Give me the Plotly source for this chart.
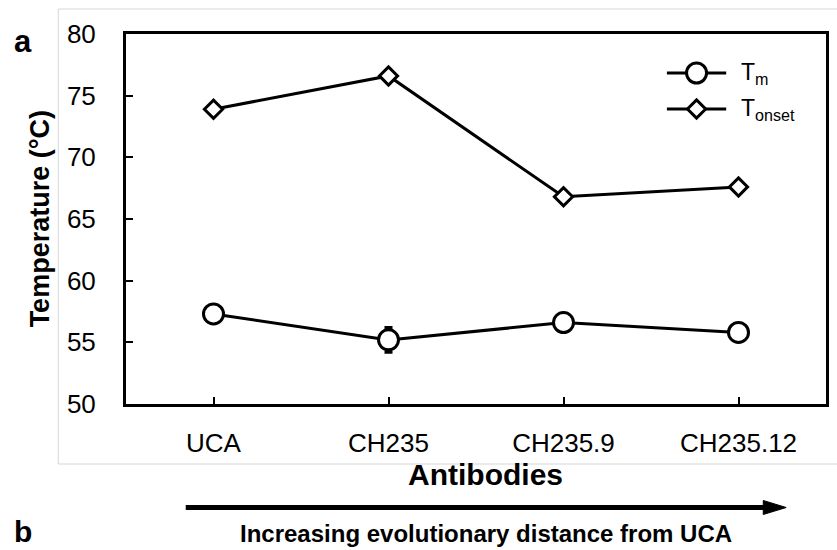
import plotly.graph_objects as go

# ---------------- data ----------------
antibodies = ["UCA", "CH235", "CH235.9", "CH235.12"]
tm = [57.3, 55.2, 56.6, 55.8]
tm_err = [0.4, 1.0, 0.4, 0.4]
tonset = [73.9, 76.6, 66.8, 67.6]
y_ticks = [50, 55, 60, 65, 70, 75, 80]
legend_names = ["T<sub>m</sub>", "T<sub>onset</sub>"]

# ---------------- layout helpers ----------------
W, H = 837, 550
L, R, T, B = 126, 829, 34, 404


def px(x):
    return (x - L) / (R - L)


def py(y):
    return (B - y) / (B - T)


FONT = "Arial, 'Liberation Sans', Helvetica, sans-serif"

fig = go.Figure()

fig.add_trace(go.Scatter(
    x=antibodies, y=tm, mode="lines+markers", name="Tm",
    line=dict(color="black", width=3),
    marker=dict(symbol="circle", size=20, color="white",
                line=dict(color="black", width=3)),
    error_y=dict(type="data", array=tm_err, color="black", thickness=3, width=4),
    showlegend=False, cliponaxis=False))

fig.add_trace(go.Scatter(
    x=antibodies, y=tonset, mode="lines+markers", name="Tonset",
    line=dict(color="black", width=3),
    marker=dict(symbol="diamond", size=14, color="white",
                line=dict(color="black", width=3)),
    showlegend=False, cliponaxis=False))

# manual legend samples on hidden axes
for sym, sz, yy in [("circle", 20, 0.75), ("diamond", 14, 0.25)]:
    fig.add_trace(go.Scatter(
        x=[0, 1], y=[yy, yy], mode="lines",
        xaxis="x2", yaxis="y2",
        line=dict(color="black", width=3),
        showlegend=False, hoverinfo="skip", cliponaxis=False))
    fig.add_trace(go.Scatter(
        x=[0.5], y=[yy], mode="markers",
        xaxis="x2", yaxis="y2",
        marker=dict(symbol=sym, size=sz, color="white", opacity=1,
                    line=dict(color="black", width=3)),
        showlegend=False, hoverinfo="skip", cliponaxis=False))

fig.update_layout(
    width=W, height=H, autosize=False,
    margin=dict(l=L, r=W - R, t=T, b=H - B, pad=0),
    paper_bgcolor="white", plot_bgcolor="white",
    font=dict(family=FONT, color="black"),
    showlegend=False,
    xaxis=dict(
        type="category", categoryorder="array", categoryarray=antibodies,
        range=[-0.5, 3.5],
        showline=True, linecolor="black", linewidth=3, mirror=True,
        ticks="inside", ticklen=7, tickwidth=2, tickcolor="black",
        tickfont=dict(size=26, family=FONT, color="black"),
        ticklabelstandoff=14,
        showgrid=False, zeroline=False),
    yaxis=dict(
        range=[50, 80], tickvals=y_ticks,
        showline=True, linecolor="black", linewidth=3, mirror=True,
        ticks="inside", ticklen=7, tickwidth=2, tickcolor="black",
        tickfont=dict(size=26, family=FONT, color="black"),
        ticklabelstandoff=22,
        showgrid=False, zeroline=False),
    xaxis2=dict(domain=[px(669), px(729)], range=[0, 1], visible=False,
                anchor="y2", fixedrange=True),
    yaxis2=dict(domain=[py(127), py(55)], range=[0, 1], visible=False,
                anchor="x2", fixedrange=True),
)

# legend labels
for name, yy in zip(legend_names, [73, 109]):
    fig.add_annotation(x=px(742), y=py(yy), xref="paper", yref="paper",
                       text=name, showarrow=False, xanchor="left",
                       yanchor="middle",
                       font=dict(size=23, family=FONT, color="black"))

# axis titles & panel letters
fig.add_annotation(x=px(40), y=py(219), xref="paper", yref="paper",
                   text="<b>Temperature (°C)</b>", textangle=-90,
                   showarrow=False, xanchor="center", yanchor="middle",
                   font=dict(size=27, family=FONT, color="black"))
fig.add_annotation(x=px(487), y=py(474), xref="paper", yref="paper",
                   text="<b>Antibodies</b>", showarrow=False,
                   xanchor="center", yanchor="middle",
                   font=dict(size=30, family=FONT, color="black"))
fig.add_annotation(x=px(488), y=py(533), xref="paper", yref="paper",
                   text="<b>Increasing evolutionary distance from UCA</b>",
                   showarrow=False, xanchor="center", yanchor="middle",
                   font=dict(size=24, family=FONT, color="black"))
fig.add_annotation(x=px(12), y=py(41), xref="paper", yref="paper",
                   text="<b>a</b>", showarrow=False, xanchor="left",
                   yanchor="middle", font=dict(size=31, family=FONT, color="black"))
fig.add_annotation(x=px(12), y=py(550), xref="paper", yref="paper",
                   text="<b>b</b>", showarrow=False, xanchor="left",
                   yanchor="bottom", font=dict(size=30, family=FONT, color="black"))

# light gray panel frame
fig.add_shape(type="rect", xref="paper", yref="paper",
              x0=px(58), x1=px(850), y0=py(464), y1=py(9),
              line=dict(color="#d6d6d6", width=1), layer="below")

# arrow
fig.add_shape(type="line", xref="paper", yref="paper",
              x0=px(186), x1=px(770), y0=py(507.5), y1=py(507.5),
              line=dict(color="black", width=5))
fig.add_shape(type="path", xref="paper", yref="paper",
              path=(f"M {px(766)} {py(500.5)} L {px(789)} {py(507.5)} "
                    f"L {px(766)} {py(514.5)} Z"),
              fillcolor="black", line=dict(color="black", width=1))

fig.write_html("out.html")
